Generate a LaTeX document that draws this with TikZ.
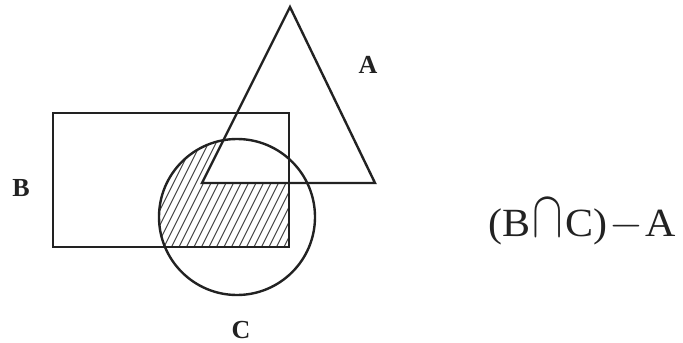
\documentclass[tikz,border=0pt]{standalone}
\usepackage{fontspec}
\setmainfont{Liberation Serif}
\usepackage{tikz}
\usetikzlibrary{positioning}
\definecolor{ink}{HTML}{222222}
\definecolor{hatchgray}{HTML}{444444}

\begin{document}
\begin{tikzpicture}[
    x=0.5pt,y=-0.5pt,
    outline/.style={draw=ink,line width=1.2pt},
    hatch/.style={draw=hatchgray,line width=0.5pt},
    setname/.style={font=\fontsize{13}{15}\selectfont\bfseries,text=ink,inner sep=0pt},
    formula/.style={font=\fontsize{20}{22}\selectfont,text=ink,inner sep=0pt,xscale=1.05}
]
\useasboundingbox (0,0) rectangle (683,342);

% hatched part: (B cap C) - A
\begin{scope}[even odd rule]
  \clip (237,217) circle[radius=39pt];
  \clip (53,113) rectangle (289,247);
  \clip (0,0) rectangle (683,342) (290,7) -- (375,183) -- (202,183) -- cycle;
  \foreach \i in {0,...,40}
    \draw[hatch] (60+\i*7.5,320) -- ++(100,-200);
\end{scope}

% the three sets
\draw[outline] (53,113) rectangle (289,247);
\draw[outline] (237,217) circle[radius=39pt];
\draw[outline,line join=miter] (290,7) -- (375,183) -- (202,183) -- cycle;

\node[setname] (lblA) at (368,65) {A};
\node[setname] (lblB) at (21,188) {B};
\node[setname] (lblC) at (241,330) {C};

\node[formula] (expr) at (582,222) {(B\kern1pt\scalebox{1.05}[1.6]{$\cap$}\kern1pt C)\kern1pt$-$\kern1pt A};
\end{tikzpicture}
\end{document}
